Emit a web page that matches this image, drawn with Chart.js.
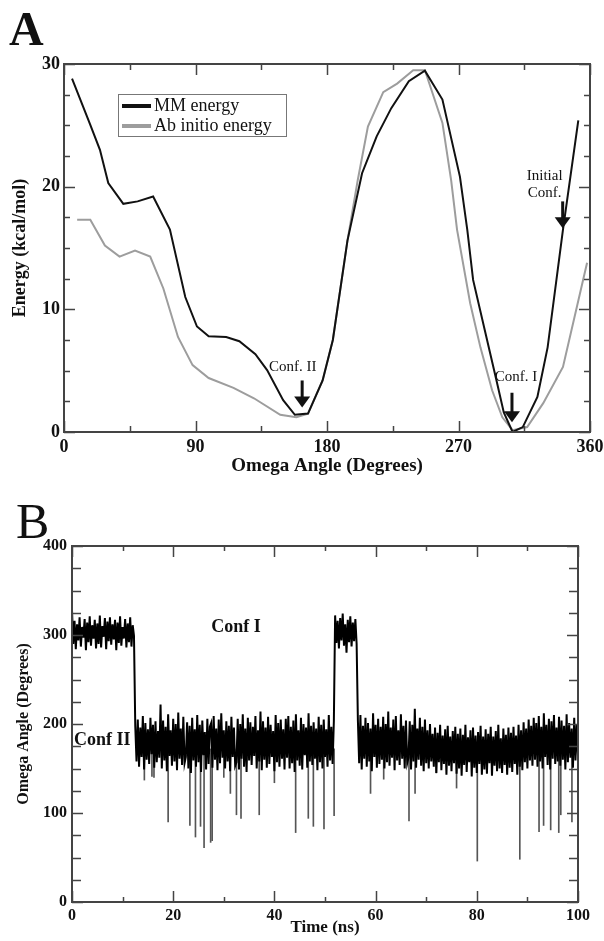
<!DOCTYPE html>
<html>
<head>
<meta charset="utf-8">
<script src="https://cdn.jsdelivr.net/npm/chart.js@4.4.1/dist/chart.umd.min.js"></script>
<style>
  html, body { margin: 0; padding: 0; background: #fff; }
  #panelA { position: absolute; left: 0; top: 0; }
  #panelB { position: absolute; left: 0; top: 490px; }
</style>
</head>
<body>
<canvas id="panelA" width="604" height="490"></canvas>
<canvas id="panelB" width="604" height="451"></canvas>
<script>
// ---- Panel A: energy scan ----
const mmAngle  = [5.5, 17.8, 24.6, 30.3, 40.6, 50.4, 61, 72.5, 83, 91, 99, 111, 120, 131, 139, 150, 158, 167, 177, 184, 194, 204, 214, 224, 236, 247, 259, 271, 276, 280, 288, 296, 301, 307, 314, 324, 331, 341.5, 352];
const mmEnergy = [28.8, 25.1, 23.0, 20.3, 18.6, 18.8, 19.2, 16.5, 11.0, 8.6, 7.8, 7.75, 7.4, 6.35, 5.05, 2.6, 1.4, 1.5, 4.2, 7.5, 15.6, 21.1, 24.1, 26.4, 28.6, 29.45, 27.1, 20.8, 16.5, 12.4, 8.3, 4.2, 1.6, 0, 0.4, 2.85, 6.9, 16.5, 25.4];
const abAngle  = [9, 18, 28, 38, 48.6, 59, 68, 78, 88, 99, 116, 130, 148, 159, 167, 177, 184, 194, 201, 208, 218.5, 228, 239, 247, 259, 265, 269, 278, 285, 293, 300, 307, 317, 328, 341.5, 358];
const abEnergy = [17.3, 17.3, 15.2, 14.3, 14.8, 14.3, 11.7, 7.75, 5.45, 4.4, 3.6, 2.75, 1.4, 1.2, 1.5, 4.2, 7.5, 15.6, 20.5, 24.9, 27.7, 28.4, 29.5, 29.5, 25.2, 20.5, 16.5, 10.5, 6.9, 3.4, 1.2, 0.15, 0.4, 2.35, 5.3, 13.8];
const angleTicks  = [0, 90, 180, 270, 360];
const energyTicks = [0, 10, 20, 30];

// ---- Panel B: omega angle trajectory, sampled every 0.25 ns ----
const sampleStep = 0.25;
const confIa  = { start: 0, values: [
  328,290,316,284,312,294,320,287,309,297,318,283,314,292,321,288,311,296,317,285,
  313,290,322,286,310,298,319,284,315,293,320,289,312,295,317,283,314,291,321,288,
  309,296,318,286,313,292,320,287,311,299] };
const confIIa = { start: 12.5, values: [
  198,158,205,152,196,163,209,149,201,160,194,155,207,166,199,151,203,157,192,162,
  222,150,204,159,197,147,211,164,193,153,206,158,200,148,213,161,195,154,208,156,
  163,202,150,198,145,207,159,194,152,210,157,199,146,204,165,191,149,206,155,197,
  201,151,209,160,195,148,205,156,212,162,193,150,203,158,198,147,208,163,196,153,
  157,206,149,200,161,211,152,195,146,207,159,202,154,197,164,209,150,193,158,214,
  148,203,160,196,151,208,155,199,163,192,147,210,157,201,152,205,161,194,149,206,
  162,209,150,197,156,204,146,211,159,193,153,207,149,200,165,196,151,212,158,198,
  154,202,161,195,148,208,157,199,150,205,163,194,152,210,159,197,155,203] };
const confIb  = { start: 52, values: [322,291,316,285,319,294,324,288,312,280,317,292,321,287,314,293,318,290] };
const confIIb = { start: 56.5, values: [
  204,156,210,149,198,161,207,152,201,158,195,147,212,163,199,151,206,155,197,160,
  208,150,200,157,214,153,196,162,205,148,209,159,193,154,211,161,198,150,204,156,
  162,203,149,199,158,217,151,195,160,207,153,197,147,205,156,193,150,200,158,189,
  152,196,145,190,157,199,148,187,155,194,143,198,153,186,147,192,156,197,144,189,
  150,195,142,188,154,199,146,185,157,193,141,196,151,187,145,191,155,198,143,186,
  149,194,144,189,156,197,142,186,153,192,147,199,150,184,145,195,154,188,143,196,
  151,190,146,197,155,187,143,199,152,193,148,202,157,195,150,205,159,198,153,207,
  160,201,152,209,158,197,150,212,163,199,154,206,149,203,161,210,155,196,158,208,
  153,204,160,198,149,211,157,201,162,195,151,207,159,200,164] };
// short excursions down out of the Conf II band
const spikeTime = [14.3, 15.8, 16.2, 19.0, 23.3, 24.4, 25.4, 26.1, 27.4, 27.7, 30.0, 31.3, 32.5, 33.4, 37.0, 40.0, 44.2, 46.7, 47.7, 49.8, 51.8, 59.0, 61.6, 66.6, 67.8, 72.0, 76.0, 80.1, 88.5, 92.3, 93.2, 94.6, 96.2, 96.6, 98.8];
const spikeLow  = [137, 141, 140, 90, 86, 73, 85, 61, 67, 69, 140, 122, 98, 94, 98, 134, 78, 94, 85, 82, 97, 122, 138, 91, 122, 145, 128, 46, 48, 79, 86, 81, 78, 98, 90];
const spikeTop  = 172;
const timeTicks  = [0, 20, 40, 60, 80, 100];
const omegaTicks = [0, 100, 200, 300, 400];

const serif = '"Liberation Serif", "Times New Roman", serif';

function toPoints(xs, ys) {
  return xs.map((x, i) => ({ x: x, y: ys[i] }));
}
function segmentPoints(seg) {
  return seg.values.map((v, i) => ({ x: seg.start + i * sampleStep, y: v }));
}

// frame, inward major/minor ticks, panel letter, notes and arrows
const panelDecor = {
  id: 'panelDecor',
  afterDraw(chart, args, o) {
    const { ctx, chartArea: a, scales: { x, y } } = chart;
    ctx.save();
    ctx.strokeStyle = '#444';
    ctx.lineWidth = 2;
    ctx.strokeRect(a.left, a.top, a.right - a.left, a.bottom - a.top);
    ctx.lineWidth = 1.5;
    ctx.beginPath();
    for (let v = x.min; v <= x.max + 1e-6; v += o.xMinor) {
      const px = Math.round(x.getPixelForValue(v)) + 0.5;
      const len = Math.abs(v / o.xMajor - Math.round(v / o.xMajor)) < 1e-6 ? o.majorLen : o.xMinorLen;
      ctx.moveTo(px, a.bottom); ctx.lineTo(px, a.bottom - len);
      ctx.moveTo(px, a.top); ctx.lineTo(px, a.top + len);
    }
    for (let v = y.min; v <= y.max + 1e-6; v += o.yMinor) {
      const py = Math.round(y.getPixelForValue(v)) + 0.5;
      const len = Math.abs(v / o.yMajor - Math.round(v / o.yMajor)) < 1e-6 ? o.majorLen : o.yMinorLen;
      ctx.moveTo(a.left, py); ctx.lineTo(a.left + len, py);
      ctx.moveTo(a.right, py); ctx.lineTo(a.right - len, py);
    }
    ctx.stroke();

    ctx.fillStyle = '#111';
    ctx.textBaseline = 'alphabetic';
    ctx.textAlign = 'left';
    ctx.font = o.letter.font;
    ctx.fillText(o.letter.text, o.letter.x, o.letter.y);

    ctx.textAlign = 'center';
    ctx.textBaseline = 'middle';
    (o.notes || []).forEach(n => {
      ctx.font = n.font;
      const cx = x.getPixelForValue(n.x);
      const cy = y.getPixelForValue(n.y);
      n.lines.forEach((t, i) => ctx.fillText(t, cx, cy + i * 17));
    });
    (o.arrows || []).forEach(ar => {
      const px = x.getPixelForValue(ar.x);
      const top = y.getPixelForValue(ar.from);
      const tip = y.getPixelForValue(ar.to);
      ctx.strokeStyle = '#111';
      ctx.lineWidth = 3;
      ctx.beginPath(); ctx.moveTo(px, top); ctx.lineTo(px, tip - 9); ctx.stroke();
      ctx.beginPath();
      ctx.moveTo(px - 8, tip - 11); ctx.lineTo(px + 8, tip - 11); ctx.lineTo(px, tip);
      ctx.closePath(); ctx.fill();
    });

    if (o.legend) {
      const L = o.legend;
      ctx.strokeStyle = '#777';
      ctx.lineWidth = 1;
      ctx.strokeRect(L.left + 0.5, L.top + 0.5, L.width, L.height);
      ctx.textAlign = 'left';
      ctx.font = L.font;
      chart.data.datasets.forEach((ds, i) => {
        const ly = L.top + 12 + i * 20;
        ctx.strokeStyle = ds.borderColor;
        ctx.lineWidth = 4;
        ctx.beginPath(); ctx.moveTo(L.left + 4, ly); ctx.lineTo(L.left + 33, ly); ctx.stroke();
        ctx.fillText(ds.label, L.left + 36, ly);
      });
    }
    ctx.restore();
  }
};

function axisTicks(values, size) {
  return {
    autoSkip: false, maxRotation: 0, color: '#111',
    font: { family: serif, size: size, weight: 'bold' },
    callback: v => (values.includes(v) ? String(v) : '')
  };
}

new Chart(document.getElementById('panelA'), {
  type: 'line',
  data: {
    datasets: [
      { label: 'MM energy', data: toPoints(mmAngle, mmEnergy), borderColor: '#111', borderWidth: 2 },
      { label: 'Ab initio energy', data: toPoints(abAngle, abEnergy), borderColor: '#9d9d9d', borderWidth: 2 }
    ]
  },
  options: {
    responsive: false,
    animation: false,
    layout: { padding: { top: 64, right: 14, left: 0, bottom: 0 } },
    elements: { point: { radius: 0 }, line: { tension: 0 } },
    plugins: {
      legend: { display: false },
      tooltip: { enabled: false },
      panelDecor: {
        xMajor: 90, xMinor: 45, yMajor: 10, yMinor: 2.5,
        majorLen: 11, xMinorLen: 6, yMinorLen: 6,
        letter: { text: 'A', x: 9, y: 45, font: 'bold 48px ' + serif },
        notes: [
          { x: 156.6, y: 5.3, lines: ['Conf. II'], font: '15px ' + serif },
          { x: 309.4, y: 4.5, lines: ['Conf. I'], font: '15px ' + serif },
          { x: 329, y: 20.9, lines: ['Initial', 'Conf.'], font: '15px ' + serif }
        ],
        arrows: [
          { x: 163, from: 4.2, to: 2.0 },
          { x: 306.6, from: 3.2, to: 0.8 },
          { x: 341.3, from: 18.8, to: 16.6 }
        ],
        legend: { left: 118, top: 94, width: 168, height: 42, font: '18px ' + serif }
      }
    },
    scales: {
      x: {
        type: 'linear', min: 0, max: 360,
        grid: { display: false, drawTicks: false }, border: { display: false },
        ticks: Object.assign({ stepSize: 90, padding: 5 }, axisTicks(angleTicks, 18)),
        title: { display: true, text: 'Omega Angle (Degrees)', color: '#111',
                 font: { family: serif, size: 19, weight: 'bold' }, padding: { top: 0, bottom: 13 } },
        afterFit: s => { s.height = 58; s.paddingRight = 0; }
      },
      y: {
        min: 0, max: 30,
        grid: { display: false, drawTicks: false }, border: { display: false },
        ticks: Object.assign({ stepSize: 10, padding: 4 }, axisTicks(energyTicks, 18)),
        title: { display: true, text: 'Energy (kcal/mol)', color: '#111',
                 font: { family: serif, size: 18, weight: 'bold' }, padding: { top: 10, bottom: 0 } },
        afterFit: s => { s.width = 64; }
      }
    }
  },
  plugins: [panelDecor]
});

const trace = [confIa, confIIa, confIb, confIIb].flatMap(segmentPoints);

new Chart(document.getElementById('panelB'), {
  type: 'line',
  data: {
    datasets: [
      { label: 'omega', data: trace, borderColor: '#000', borderWidth: 2 },
      { type: 'bar', label: 'dips', data: spikeTime.map((t, i) => ({ x: t, y: [spikeLow[i], spikeTop] })),
        backgroundColor: '#555', barThickness: 1, grouped: false }
    ]
  },
  options: {
    responsive: false,
    animation: false,
    layout: { padding: { top: 56, right: 26, left: 0, bottom: 0 } },
    elements: { point: { radius: 0 }, line: { tension: 0 } },
    plugins: {
      legend: { display: false },
      tooltip: { enabled: false },
      panelDecor: {
        xMajor: 20, xMinor: 10, yMajor: 100, yMinor: 25,
        majorLen: 11, xMinorLen: 5, yMinorLen: 9,
        letter: { text: 'B', x: 16, y: 48, font: '50px ' + serif },
        notes: [
          { x: 32.4, y: 309, lines: ['Conf I'], font: 'bold 18px ' + serif },
          { x: 6.0, y: 182, lines: ['Conf II'], font: 'bold 18px ' + serif }
        ]
      }
    },
    scales: {
      x: {
        type: 'linear', min: 0, max: 100, offset: false,
        grid: { display: false, drawTicks: false }, border: { display: false },
        ticks: Object.assign({ stepSize: 20, padding: 4 }, axisTicks(timeTicks, 16)),
        title: { display: true, text: 'Time (ns)', color: '#111',
                 font: { family: serif, size: 17, weight: 'bold' }, padding: { top: 0, bottom: 3 } },
        afterFit: s => { s.height = 39; }
      },
      y: {
        min: 0, max: 400,
        grid: { display: false, drawTicks: false }, border: { display: false },
        ticks: Object.assign({ stepSize: 100, padding: 5 }, axisTicks(omegaTicks, 16)),
        title: { display: true, text: 'Omega Angle (Degrees)', color: '#111',
                 font: { family: serif, size: 16, weight: 'bold' }, padding: { top: 14, bottom: 0 } },
        afterFit: s => { s.width = 72; }
      }
    }
  },
  plugins: [panelDecor]
});
</script>
</body>
</html>
